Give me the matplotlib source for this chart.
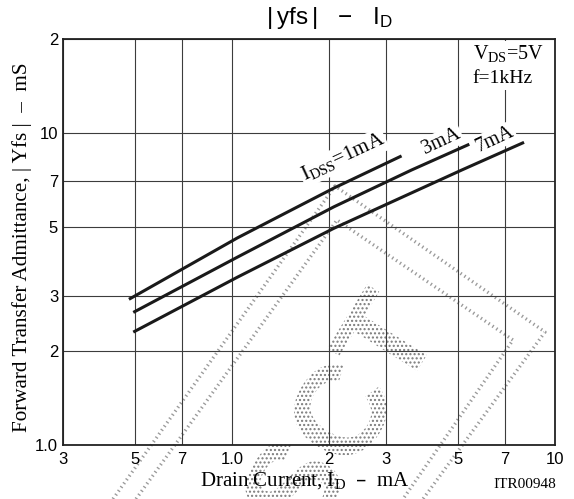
import numpy as np
import matplotlib
matplotlib.use('Agg')
import matplotlib.pyplot as plt
from matplotlib.ticker import NullLocator
from matplotlib.lines import Line2D
from matplotlib.textpath import TextPath
from matplotlib.patches import PathPatch
from matplotlib.font_manager import FontProperties
from matplotlib.transforms import Affine2D

plt.close('all')

# |yfs| vs drain current for three IDSS classes (VDS=5V, f=1kHz)
id_1mA = [0.48, 1.04, 2.07, 3.35]
yfs_1mA = [2.93, 4.61, 6.66, 8.44]

id_3mA = [0.495, 1.04, 2.07, 3.60, 5.43]
yfs_3mA = [2.66, 4.00, 5.80, 7.61, 9.20]

id_7mA = [0.495, 1.04, 2.07, 5.15, 8.02]
yfs_7mA = [2.30, 3.45, 4.95, 7.61, 9.33]

x_ticks = [0.3, 0.5, 0.7, 1.0, 2, 3, 5, 7, 10]
x_labels = ['3', '5', '7', '1.0', '2', '3', '5', '7', '10']
y_ticks = [1, 2, 3, 5, 7, 10, 20]
y_labels = ['1.0', '2', '3', '5', '7', '10', '2']

W, H = 574, 499
SANS = 'Liberation Sans'
SERIF = 'Liberation Serif'

fig = plt.figure(figsize=(W / 100, H / 100), dpi=100)
ax = fig.add_axes([63 / W, 54 / H, 492 / W, 406 / H])
ax.set_facecolor('none')

ax.set_xscale('log')
ax.set_yscale('log')
ax.set_xlim(0.3, 10)
ax.set_ylim(1, 20)
ax.set_xticks(x_ticks)
ax.set_xticklabels(x_labels, family=SANS, fontsize=12)
ax.set_yticks(y_ticks)
ax.set_yticklabels(y_labels, family=SANS, fontsize=12)
ax.xaxis.set_minor_locator(NullLocator())
ax.yaxis.set_minor_locator(NullLocator())
ax.tick_params(axis='x', length=0, pad=5)
ax.tick_params(axis='y', length=0, pad=3.5)
ax.grid(True, which='major', color='#3c3c3c', lw=0.8)
for s in ax.spines.values():
    s.set_linewidth(1.3)
    s.set_color('#222222')

# curves
for xs, ys in [(id_1mA, yfs_1mA), (id_3mA, yfs_3mA), (id_7mA, yfs_7mA)]:
    ax.plot(xs, ys, color='#1a1a1a', lw=2.2, solid_capstyle='butt',
            solid_joinstyle='round', zorder=4)

# curve labels
lbl_box = dict(facecolor='white', edgecolor='none', pad=1.0)
ax.text(2.21, 8.34, r'I$_\mathregular{DSS}$=1mA', family=SERIF, fontsize=15,
        rotation=25, rotation_mode='anchor', ha='center', va='center',
        bbox=lbl_box, zorder=5)
ax.text(4.46, 9.38, '3mA', family=SERIF, fontsize=14.5,
        rotation=25, rotation_mode='anchor', ha='center', va='center',
        bbox=lbl_box, zorder=5)
ax.text(6.52, 9.55, '7mA', family=SERIF, fontsize=14.5,
        rotation=25, rotation_mode='anchor', ha='center', va='center',
        bbox=lbl_box, zorder=5)

# conditions
cond_box = dict(facecolor='white', edgecolor='none', pad=2.0)
ax.text(0.833, 0.962, r'V$_\mathregular{DS}$=5V', transform=ax.transAxes,
        family=SERIF, fontsize=14.5, ha='left', va='center', bbox=cond_box, zorder=5)
ax.text(0.833, 0.902, 'f=1kHz', transform=ax.transAxes,
        family=SERIF, fontsize=14, ha='left', va='center', bbox=cond_box, zorder=5)

# title and axis labels
fig.text(329 / W, 1 - 18 / H, r'$\mathregular{|\,yfs\,|\ \ -\ \ I_D}$', family=SANS,
         fontsize=17.5, ha='center', va='center')
fig.text(22 / W, 1 - 247 / H, 'Forward Transfer Admittance, | Yfs |  \u2013  mS',
         family=SERIF, fontsize=15.2, rotation=90, ha='center', va='center')
fig.text(305 / W, 1 - 481 / H, 'Drain Current, I$_\\mathregular{D}$  \u2013  mA',
         family=SERIF, fontsize=15, ha='center', va='center')
fig.text(556 / W, 1 - 485 / H, 'ITR00948', family=SERIF, fontsize=11,
         ha='right', va='center')

# stippled stamp in the background
stamp_outer = [(113, 499), (335, 186), (545, 332), (423, 499)]
stamp_inner = [(136, 499), (337, 220), (513, 340), (403, 499)]
for pts in (stamp_outer, stamp_inner):
    px = [p[0] / W for p in pts]
    py = [1 - p[1] / H for p in pts]
    fig.add_artist(Line2D(px, py, transform=fig.transFigure, color='#9a9a9a',
                          lw=2.4, linestyle=(0, (0.4, 1.0)), zorder=-1))

fp = FontProperties(family=SANS, weight='bold')
tp = TextPath((0, 0), 'SCT', size=128, prop=fp)
ext = tp.get_extents()
cx, cy = (ext.x0 + ext.x1) / 2, (ext.y0 + ext.y1) / 2
stamp_tf = Affine2D().translate(-cx, -cy).rotate_deg(58).translate(338, H - 414)
stamp = PathPatch(tp, transform=stamp_tf, facecolor='none', edgecolor='#7a7a7a',
                  lw=0, hatch='....', zorder=-1)
fig.add_artist(stamp)

fig.savefig('out.png', dpi=100, facecolor='white')
